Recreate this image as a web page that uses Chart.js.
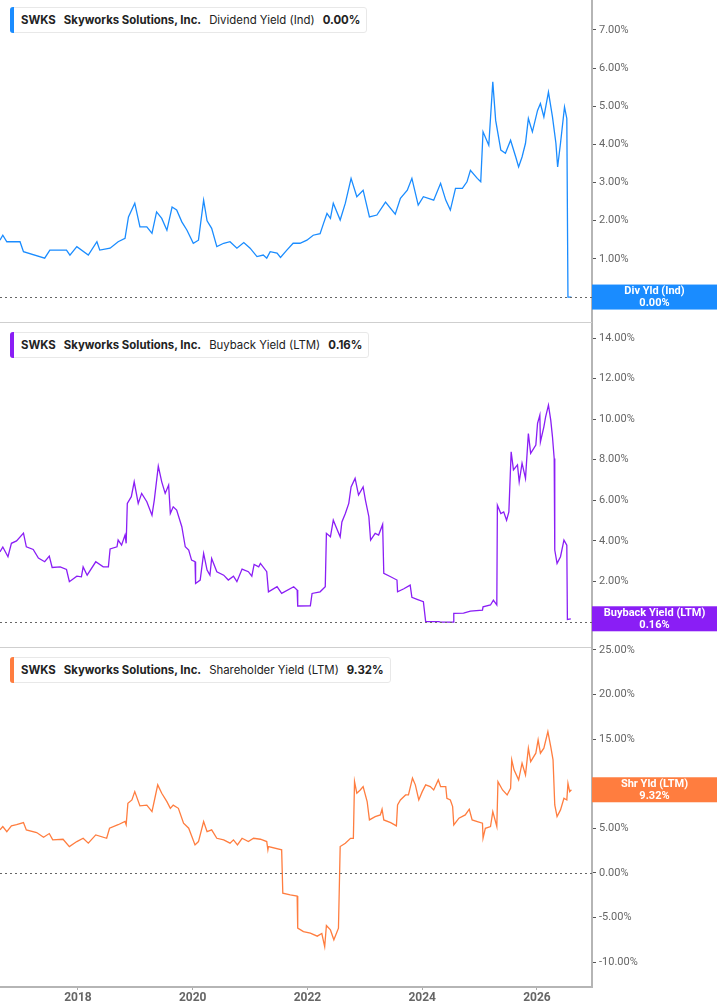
<!DOCTYPE html>
<html lang="en">
<head>
  <meta charset="UTF-8">
  <title>SWKS Yields</title>
  <script src="https://cdn.jsdelivr.net/npm/chart.js@4.4.0/dist/chart.umd.min.js"></script>
  <style>
    html, body { margin: 0; padding: 0; background: #fff; }
    body { width: 717px; height: 1005px; position: relative; overflow: hidden; font-family: Inter, "Noto Sans", sans-serif; }
    .panel { position: absolute; left: 0; width: 717px; }
    .tag {
      position: absolute; left: 10px; height: 24px; line-height: 24px;
      background: #fff; border: 1px solid #e8e8e8; border-radius: 3px;
      font-size: 11.4px; color: #222; padding: 0 6px 0 10px; white-space: nowrap;
    }
    .tag::before {
      content: ""; position: absolute; left: -1px; top: -1px; bottom: -1px; width: 4px;
      border-radius: 3px 0 0 3px; background: var(--c);
    }
    .tag b { font-weight: 700; }
    .tag .gap { display: inline-block; width: 8px; }
  </style>
</head>
<body>
  <div class="panel" style="top:0;height:323px"><canvas id="divChart"></canvas></div>
  <div class="panel" style="top:323px;height:325px"><canvas id="buyChart"></canvas></div>
  <div class="panel" style="top:638px;height:367px"><canvas id="shrChart"></canvas></div>

  <div class="tag" style="top:7px;--c:#1a8cff"><b>SWKS</b><span class="gap"></span><b>Skyworks Solutions, Inc.</b><span class="gap"></span>Dividend Yield (Ind)<span class="gap"></span><b>0.00%</b></div>
  <div class="tag" style="top:332px;--c:#8a1ef5"><b>SWKS</b><span class="gap"></span><b>Skyworks Solutions, Inc.</b><span class="gap"></span>Buyback Yield (LTM)<span class="gap"></span><b>0.16%</b></div>
  <div class="tag" style="top:657px;--c:#ff7d3f"><b>SWKS</b><span class="gap"></span><b>Skyworks Solutions, Inc.</b><span class="gap"></span>Shareholder Yield (LTM)<span class="gap"></span><b>9.32%</b></div>

  <script>
    // dividend yield (Ind), % — dates as decimal years
    const divDates = [2016.64,2016.69,2016.76,2016.99,2017.05,2017.42,2017.51,2017.80,2017.86,2017.98,2018.18,2018.33,2018.38,2018.56,2018.70,2018.82,2018.88,2018.99,2019.08,2019.20,2019.29,2019.37,2019.46,2019.55,2019.64,2019.72,2019.81,2019.90,2020.01,2020.10,2020.19,2020.25,2020.33,2020.42,2020.54,2020.65,2020.77,2020.89,2021.00,2021.12,2021.23,2021.29,2021.35,2021.47,2021.53,2021.64,2021.75,2021.87,2021.99,2022.10,2022.22,2022.28,2022.34,2022.40,2022.45,2022.57,2022.66,2022.76,2022.86,2022.97,2023.08,2023.21,2023.36,2023.53,2023.62,2023.74,2023.82,2023.93,2024.02,2024.20,2024.32,2024.41,2024.49,2024.58,2024.70,2024.78,2024.84,2024.96,2025.02,2025.06,2025.16,2025.23,2025.28,2025.37,2025.45,2025.54,2025.63,2025.68,2025.74,2025.80,2025.85,2025.92,2026.01,2026.06,2026.12,2026.20,2026.27,2026.33,2026.36,2026.41,2026.48,2026.52,2026.54,2026.60];
    const divValues = [1.49,1.62,1.45,1.45,1.19,1.02,1.23,1.23,1.10,1.32,1.10,1.45,1.23,1.28,1.45,1.54,2.10,2.46,1.84,1.84,1.67,2.23,2.06,1.75,2.36,2.28,1.97,1.75,1.41,1.49,2.54,2.00,1.80,1.32,1.41,1.45,1.28,1.43,1.28,1.06,1.10,1.02,1.19,1.15,1.04,1.23,1.41,1.41,1.49,1.62,1.66,1.93,2.19,2.06,2.46,2.02,2.46,3.11,2.63,2.80,2.10,2.15,2.49,2.17,2.59,2.80,3.11,2.41,2.63,2.54,2.98,2.54,2.28,2.85,2.85,3.02,3.32,3.11,3.02,4.33,3.98,5.64,4.63,3.85,3.77,4.11,3.67,3.41,3.67,4.03,4.68,4.33,4.89,5.07,4.72,5.37,4.72,4.03,3.41,4.03,4.98,4.68,0.00,0.00];

    // buyback yield (LTM), %
    const buyDates = [2016.64,2016.69,2016.78,2016.84,2016.93,2017.05,2017.10,2017.22,2017.31,2017.42,2017.50,2017.55,2017.69,2017.80,2017.85,2017.98,2018.06,2018.09,2018.16,2018.31,2018.44,2018.53,2018.56,2018.68,2018.70,2018.76,2018.82,2018.84,2018.86,2018.93,2018.98,2019.05,2019.11,2019.20,2019.29,2019.33,2019.40,2019.46,2019.52,2019.58,2019.61,2019.66,2019.72,2019.81,2019.87,2019.93,2019.98,2020.04,2020.05,2020.13,2020.19,2020.25,2020.30,2020.33,2020.42,2020.54,2020.62,2020.71,2020.77,2020.86,2020.97,2021.03,2021.07,2021.15,2021.18,2021.29,2021.32,2021.47,2021.55,2021.76,2021.82,2021.83,2022.05,2022.08,2022.22,2022.31,2022.33,2022.40,2022.45,2022.52,2022.57,2022.60,2022.66,2022.72,2022.76,2022.83,2022.89,2022.97,2023.01,2023.07,2023.10,2023.18,2023.24,2023.31,2023.33,2023.45,2023.56,2023.57,2023.68,2023.79,2023.82,2023.91,2024.02,2024.06,2024.29,2024.32,2024.54,2024.55,2024.72,2024.84,2025.05,2025.06,2025.19,2025.24,2025.30,2025.31,2025.37,2025.42,2025.47,2025.51,2025.55,2025.59,2025.66,2025.69,2025.74,2025.80,2025.85,2025.89,2025.98,2026.01,2026.05,2026.06,2026.12,2026.15,2026.20,2026.24,2026.27,2026.30,2026.31,2026.35,2026.41,2026.47,2026.52,2026.53,2026.59];
    const buyValues = [3.46,3.70,3.22,3.88,4.00,4.38,3.71,3.58,3.15,2.97,3.25,2.69,2.72,2.59,1.99,2.26,2.23,2.72,2.31,2.97,2.72,2.72,3.60,3.71,4.04,3.79,4.29,3.88,5.85,6.18,6.91,5.85,6.34,5.93,5.27,6.01,7.68,6.91,6.34,6.75,5.35,5.68,5.52,4.70,3.71,3.55,3.05,2.97,1.90,2.07,3.38,2.56,2.31,3.13,2.48,2.31,2.07,2.26,1.99,2.61,2.48,2.26,2.84,2.72,2.89,2.48,1.49,1.74,1.41,1.74,1.58,0.79,0.80,1.41,1.49,1.74,4.37,4.20,5.02,4.54,4.20,4.93,5.35,5.85,6.66,7.08,6.26,6.66,6.01,5.19,4.04,4.37,4.29,4.81,2.40,2.23,2.07,1.49,1.64,1.82,1.22,1.12,1.00,0.02,0.02,0.00,0.00,0.43,0.44,0.54,0.59,0.75,0.84,1.08,0.84,5.76,5.35,5.43,5.02,5.43,8.39,7.50,7.75,6.91,7.83,7.08,9.29,8.31,8.72,9.79,10.20,8.88,9.62,10.10,10.69,9.95,9.13,8.06,3.55,2.89,3.22,4.04,3.79,0.13,0.16];

    // shareholder yield (LTM), %
    const shrDates = [2016.64,2016.69,2016.76,2016.84,2016.93,2017.05,2017.10,2017.28,2017.40,2017.50,2017.56,2017.74,2017.85,2017.98,2018.09,2018.18,2018.31,2018.50,2018.55,2018.70,2018.82,2018.84,2018.87,2018.94,2018.99,2019.08,2019.20,2019.29,2019.34,2019.39,2019.46,2019.55,2019.61,2019.66,2019.75,2019.84,2019.93,2020.04,2020.10,2020.19,2020.25,2020.33,2020.42,2020.54,2020.65,2020.71,2020.78,2020.86,2020.97,2021.06,2021.18,2021.29,2021.31,2021.32,2021.55,2021.57,2021.70,2021.82,2021.83,2021.93,2022.05,2022.17,2022.25,2022.30,2022.33,2022.40,2022.46,2022.54,2022.57,2022.66,2022.75,2022.80,2022.82,2022.86,2022.92,2022.97,2023.04,2023.08,2023.18,2023.27,2023.30,2023.33,2023.45,2023.55,2023.57,2023.62,2023.71,2023.76,2023.83,2023.88,2023.94,2024.00,2024.06,2024.14,2024.20,2024.28,2024.32,2024.41,2024.43,2024.49,2024.53,2024.55,2024.64,2024.75,2024.82,2024.87,2024.96,2025.05,2025.06,2025.10,2025.19,2025.23,2025.30,2025.32,2025.40,2025.48,2025.54,2025.56,2025.60,2025.68,2025.74,2025.80,2025.85,2025.89,2025.98,2026.02,2026.06,2026.12,2026.19,2026.24,2026.28,2026.31,2026.35,2026.41,2026.47,2026.52,2026.54,2026.57,2026.60];
    const shrValues = [4.82,5.20,4.63,5.27,5.40,5.64,4.82,4.52,4.00,4.41,3.70,3.77,2.95,3.51,3.88,3.33,4.26,3.88,5.01,5.40,5.76,5.40,7.81,8.18,9.11,7.51,7.60,6.87,8.37,9.87,8.93,7.99,7.24,7.60,7.24,5.57,5.01,3.14,3.51,5.76,4.63,4.82,3.88,3.70,3.33,3.70,3.14,3.88,3.51,3.88,3.77,3.51,2.58,2.95,2.58,-2.28,-2.46,-2.60,-6.20,-6.58,-6.76,-7.10,-6.80,-8.26,-5.90,-6.40,-7.51,-6.20,2.95,3.32,3.88,3.88,10.24,8.93,9.30,9.68,8.00,5.94,6.31,6.50,7.14,5.94,5.64,5.27,7.62,8.18,8.74,8.74,10.62,9.87,8.18,9.11,9.87,9.68,9.30,10.43,9.68,9.68,8.37,8.18,7.43,5.38,6.13,6.50,7.14,5.94,5.76,5.57,3.89,5.00,5.20,6.87,5.20,10.24,9.30,8.74,9.49,12.67,11.55,10.43,12.30,10.99,13.98,12.48,13.42,14.91,13.42,13.98,15.84,14.17,12.67,7.62,6.31,7.06,8.37,8.18,10.05,9.11,9.32];

    // axis ticks
    const yearTicks = [2018, 2020, 2022, 2024, 2026];
    const divTicks = [0, 1, 2, 3, 4, 5, 6, 7];
    const buyTicks = [0, 2, 4, 6, 8, 10, 12, 14];
    const shrTicks = [-10, -5, 0, 5, 10, 15, 20, 25];

    const xMin = 2016.641, xMax = 2026.959;

    // dotted zero line, panel separator and the last-value box on the right
    const overlay = {
      id: 'overlay',
      afterDatasetsDraw(chart) {
        const { ctx, chartArea } = chart;
        const y0 = chart.scales.y.getPixelForValue(0);
        ctx.save();
        ctx.strokeStyle = '#666';
        ctx.lineWidth = 1;
        ctx.setLineDash([2, 3]);
        ctx.beginPath();
        ctx.moveTo(chartArea.left, Math.round(y0) + 0.5);
        ctx.lineTo(chartArea.right, Math.round(y0) + 0.5);
        ctx.stroke();
        ctx.restore();
      },
      afterDraw(chart, args, opts) {
        const { ctx, chartArea } = chart;
        ctx.save();
        if (opts.separator) {
          ctx.strokeStyle = '#cfcfcf';
          ctx.lineWidth = 1;
          ctx.beginPath();
          ctx.moveTo(0, chartArea.bottom - 0.5);
          ctx.lineTo(chartArea.right, chartArea.bottom - 0.5);
          ctx.stroke();
        }
        const vals = chart.data.datasets[0].data;
        const last = vals[vals.length - 1].y;
        const py = chart.scales.y.getPixelForValue(last);
        const left = chartArea.right, w = chart.width - chartArea.right, h = 25;
        ctx.fillStyle = opts.color;
        ctx.fillRect(left, py - h / 2, w, h);
        ctx.fillStyle = '#fff';
        ctx.font = 'bold 11px Roboto, "Liberation Sans", sans-serif';
        ctx.textAlign = 'center';
        ctx.textBaseline = 'middle';
        ctx.fillText(opts.label, left + w / 2, py - 5.5);
        ctx.fillText(last.toFixed(2) + '%', left + w / 2, py + 6);
        ctx.restore();
      }
    };

    function makeChart(id, dates, values, color, ticks, yMin, yMax, label, showX, padTop) {
      return new Chart(document.getElementById(id), {
        type: 'line',
        data: {
          datasets: [{
            data: dates.map((d, i) => ({ x: d, y: values[i] })),
            borderColor: color,
            borderWidth: 1.3,
            pointRadius: 0,
            tension: 0,
            fill: false
          }]
        },
        options: {
          responsive: true,
          maintainAspectRatio: false,
          animation: false,
          layout: { padding: { top: padTop, left: 0, right: 0, bottom: 0 } },
          plugins: {
            legend: { display: false },
            tooltip: { enabled: false },
            overlay: { color: color, label: label, separator: !showX }
          },
          scales: {
            x: {
              type: 'linear',
              min: xMin,
              max: xMax,
              display: showX,
              afterBuildTicks: s => { s.ticks = yearTicks.map(v => ({ value: v })); },
              afterFit: s => {
                s.height = showX ? 18 : 0;
                s.paddingLeft = 0; s.paddingRight = 0;
              },
              grid: { display: true, drawOnChartArea: false, drawTicks: true, tickLength: 3, tickColor: '#aaa' },
              border: { color: '#b5b5b5', width: 2 },
              ticks: {
                padding: 1,
                color: '#666',
                font: { family: 'Roboto', size: 12, weight: 'bold' },
                callback: v => String(v)
              }
            },
            y: {
              position: 'right',
              min: yMin,
              max: yMax,
              afterBuildTicks: s => { s.ticks = ticks.map(v => ({ value: v })); },
              afterFit: s => {
                s.width = 125;
                s.paddingTop = 0; s.paddingBottom = 0;
              },
              grid: { display: true, drawOnChartArea: false, drawTicks: true, tickLength: 4, tickColor: '#555' },
              border: { color: '#b5b5b5', width: 2 },
              ticks: {
                padding: 3,
                color: '#666',
                font: { family: 'Roboto', size: 11 },
                callback: v => v.toFixed(2) + '%'
              }
            }
          }
        },
        plugins: [overlay]
      });
    }

    makeChart('divChart', divDates, divValues, '#1a8cff', divTicks, -0.68, 7.785, 'Div Yld (Ind)', false, 0);
    makeChart('buyChart', buyDates, buyValues, '#8a1ef5', buyTicks, -1.28, 14.74, 'Buyback Yield (LTM)', false, 0);
    makeChart('shrChart', shrDates, shrValues, '#ff7d3f', shrTicks, -12.80, 25.22, 'Shr Yld (LTM)', true, 10);
  </script>
</body>
</html>
